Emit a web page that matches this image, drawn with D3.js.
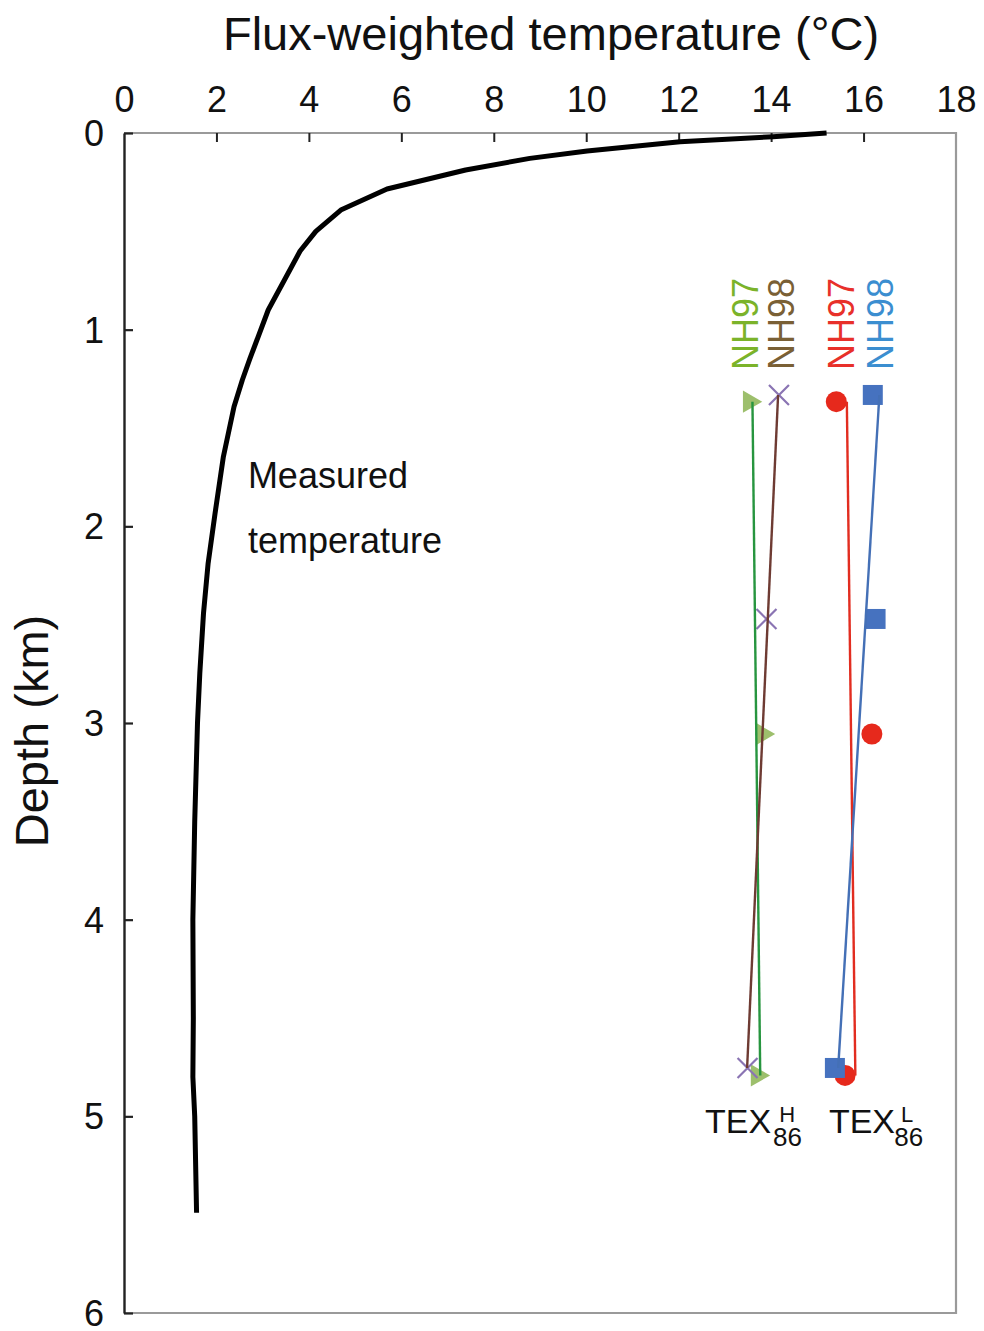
<!DOCTYPE html>
<html>
<head>
<meta charset="utf-8">
<script src="https://cdn.jsdelivr.net/npm/d3@7"></script>
<style>
  body { margin: 0; background: #fff; }
  text { font-family: "Liberation Sans", Arial, Helvetica, sans-serif; }
</style>
</head>
<body>
<script>
// measured temperature profile (depth km, temp C)
var measuredDepth = [0, 0.019, 0.044, 0.092, 0.129, 0.188, 0.285, 0.392, 0.5, 0.6, 0.9, 1.15, 1.256, 1.392, 1.646, 1.934, 2.188, 2.442, 2.747, 3.0, 3.5, 4.0, 4.5, 4.8, 5.0, 5.49];
var measuredTemp  = [15.2, 14.04, 12.03, 10.02, 8.78, 7.39, 5.69, 4.69, 4.15, 3.81, 3.12, 2.72, 2.56, 2.38, 2.15, 1.97, 1.82, 1.72, 1.64, 1.59, 1.53, 1.49, 1.5, 1.49, 1.53, 1.57];

// TEX86 derived temperatures at sediment trap depths
var nh97Depth = [1.366, 3.056, 4.792];
var nh98Depth = [1.332, 2.471, 4.754];
var nh97TexH = [13.53, 13.81, 13.70];
var nh98TexH = [14.17, 13.90, 13.49];
var nh97TexL = [15.41, 16.18, 15.60];
var nh98TexL = [16.20, 16.26, 15.38];

var xTicks = [0, 2, 4, 6, 8, 10, 12, 14, 16, 18];
var yTicks = [0, 1, 2, 3, 4, 5, 6];

var svg = d3.select('body').append('svg')
  .attr('width', 984)
  .attr('height', 1331);

var x = d3.scaleLinear().domain([0, 18]).range([124, 956]);
var y = d3.scaleLinear().domain([0, 6]).range([133, 1313]);

// frame (grey top / right / bottom)
svg.append('path')
  .attr('d', 'M' + x(0) + ',' + y(0) + 'H' + x(18) + 'V' + y(6) + 'H' + x(0))
  .attr('fill', 'none')
  .attr('stroke', '#9a9a9a')
  .attr('stroke-width', 2.2);

// top axis
var xAxis = svg.append('g')
  .attr('transform', 'translate(0,' + y(0) + ')')
  .call(d3.axisTop(x).tickValues(xTicks).tickSize(-9).tickPadding(21).tickFormat(d3.format('d')));
xAxis.select('.domain').remove();
xAxis.selectAll('.tick line')
  .attr('stroke', '#222')
  .attr('stroke-width', 2)
  .attr('opacity', function (d) { return (d == 0 || d == 18) ? 0 : 1; });
xAxis.selectAll('.tick text')
  .attr('font-size', 36)
  .attr('fill', '#111')
  .attr('font-family', '"Liberation Sans", Arial, sans-serif');

// left axis
var yAxis = svg.append('g')
  .attr('transform', 'translate(' + x(0) + ',0)')
  .call(d3.axisLeft(y).tickValues(yTicks).tickSize(-9).tickPadding(20).tickSizeOuter(0).tickFormat(d3.format('d')));
yAxis.select('.domain')
  .attr('stroke', '#222')
  .attr('stroke-width', 2.4);
yAxis.selectAll('.tick line')
  .attr('stroke', '#222')
  .attr('stroke-width', 2.2);
yAxis.selectAll('.tick text')
  .attr('font-size', 36)
  .attr('fill', '#111')
  .attr('dy', '0.35em')
  .attr('font-family', '"Liberation Sans", Arial, sans-serif');

// axis titles
svg.append('text')
  .attr('x', 551)
  .attr('y', 50)
  .attr('text-anchor', 'middle')
  .attr('font-size', 47)
  .attr('fill', '#111')
  .text('Flux-weighted temperature (°C)');

svg.append('text')
  .attr('transform', 'translate(48,' + 731 + ') rotate(-90)')
  .attr('text-anchor', 'middle')
  .attr('font-size', 47)
  .attr('fill', '#111')
  .text('Depth (km)');

// measured curve
var profile = measuredDepth.map(function (d, i) { return [measuredTemp[i], d]; });
var line = d3.line()
  .x(function (d) { return x(d[0]); })
  .y(function (d) { return y(d[1]); });

svg.append('path')
  .attr('d', line(profile))
  .attr('fill', 'none')
  .attr('stroke', '#000')
  .attr('stroke-width', 5)
  .attr('stroke-linejoin', 'round');

svg.append('text')
  .attr('x', x(2.68))
  .attr('y', y(1.805))
  .attr('font-size', 36)
  .attr('fill', '#111')
  .text('Measured');
svg.append('text')
  .attr('x', x(2.68))
  .attr('y', y(2.135))
  .attr('font-size', 36)
  .attr('fill', '#111')
  .text('temperature');

// least squares fit of temperature on depth
function fit(depths, temps) {
  var md = d3.mean(depths), mt = d3.mean(temps);
  var num = d3.sum(depths, function (d, i) { return (d - md) * (temps[i] - mt); });
  var den = d3.sum(depths, function (d) { return (d - md) * (d - md); });
  var b = num / den;
  var d0 = d3.min(depths), d1 = d3.max(depths);
  return [[mt + b * (d0 - md), d0], [mt + b * (d1 - md), d1]];
}

var series = [
  { name: 'NH97', depth: nh97Depth, temp: nh97TexH, symbol: d3.symbolTriangle, size: 215, rotate: 90, fill: '#9dbf6c', stroke: 'none', line: '#27953f' },
  { name: 'NH98', depth: nh98Depth, temp: nh98TexH, symbol: d3.symbolTimes, size: 262, rotate: 0, fill: 'none', stroke: '#8a74b3', line: '#6e3b33' },
  { name: 'NH97', depth: nh97Depth, temp: nh97TexL, symbol: d3.symbolCircle, size: 346, rotate: 0, fill: '#e6291c', stroke: 'none', line: '#e22d20' },
  { name: 'NH98', depth: nh98Depth, temp: nh98TexL, symbol: d3.symbolSquare, size: 400, rotate: 0, fill: '#4672bf', stroke: 'none', line: '#4470b6' }
];

series.forEach(function (s) {
  svg.append('g')
    .selectAll('path')
    .data(s.depth)
    .enter().append('path')
    .attr('transform', function (d, i) { return 'translate(' + x(s.temp[i]) + ',' + y(d) + ') rotate(' + s.rotate + ')'; })
    .attr('d', d3.symbol().type(s.symbol).size(s.size))
    .attr('fill', s.fill)
    .attr('stroke', s.stroke)
    .attr('stroke-width', 2.2);
});

series.forEach(function (s) {
  svg.append('path')
    .attr('d', line(fit(s.depth, s.temp)))
    .attr('fill', 'none')
    .attr('stroke', s.line)
    .attr('stroke-width', 2.4);
});

// series labels (rotated)
var labels = [
  { text: 'NH97', t: 13.72, color: '#7bb32a' },
  { text: 'NH98', t: 14.5, color: '#7a6035' },
  { text: 'NH97', t: 15.8, color: '#e8302a' },
  { text: 'NH98', t: 16.64, color: '#3b8ed0' }
];
svg.append('g')
  .selectAll('text')
  .data(labels)
  .enter().append('text')
  .attr('transform', function (d) { return 'translate(' + x(d.t) + ',' + y(1.205) + ') rotate(-90)'; })
  .attr('font-size', 36)
  .attr('fill', function (d) { return d.color; })
  .text(function (d) { return d.text; });

// TEX86 labels with stacked super/subscript
var texLabels = [
  { t: 12.57, sup: 'H', supDx: 8, subDx: -22 },
  { t: 15.25, sup: 'L', supDx: 6, subDx: -19 }
];
texLabels.forEach(function (s) {
  var t = svg.append('text')
    .attr('x', x(s.t))
    .attr('y', y(5.086))
    .attr('font-size', 34)
    .attr('fill', '#111');
  t.append('tspan').text('TEX');
  t.append('tspan')
    .attr('dx', s.supDx)
    .attr('dy', -11)
    .attr('font-size', 22)
    .text(s.sup);
  t.append('tspan')
    .attr('dx', s.subDx)
    .attr('dy', 24)
    .attr('font-size', 26)
    .text('86');
});
</script>
</body>
</html>
